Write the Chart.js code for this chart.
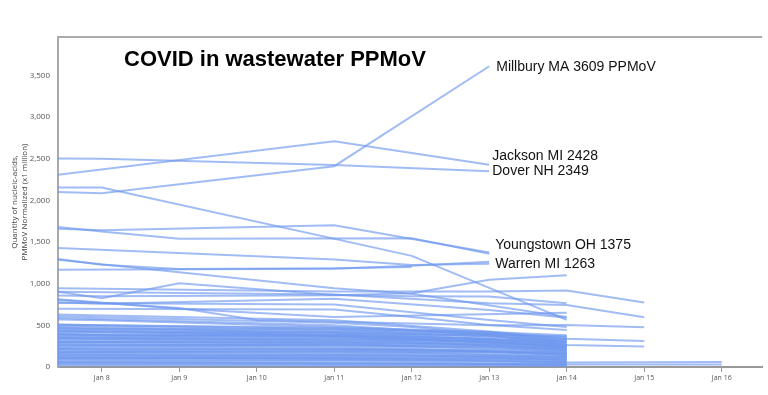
<!DOCTYPE html>
<html>
<head>
<meta charset="utf-8">
<script src="https://cdn.jsdelivr.net/npm/chart.js@4.4.0/dist/chart.umd.min.js"></script>
<style>
  html, body { margin: 0; padding: 0; background: #fff; }
  #wrap { width: 768px; height: 395px; }
</style>
</head>
<body>
<div id="wrap"><canvas id="wwChart" width="768" height="395"></canvas></div>
<script>
// sample days (January), first day sits just off the left edge
const days = [7, 8, 9, 10, 11, 12, 13, 14, 15, 16];
const tickDays = [8, 9, 10, 11, 12, 13, 14, 15, 16];
const tickLabels = ['Jan 8', 'Jan 9', 'Jan 10', 'Jan 11', 'Jan 12', 'Jan 13', 'Jan 14', 'Jan 15', 'Jan 16'];
const yTicks = [0, 500, 1000, 1500, 2000, 2500, 3000, 3500];

// labelled sites
const millbury   = [2112, 2085, null, null, 2410, null, 3609, null, null, null];
const jackson    = [2259, null, null, null, 2710, null, 2428, null, null, null];
const dover      = [2505, 2500, null, null, 2425, null, 2349, null, null, null];
const youngstown = [1676, 1640, null, null, 1700, null, 1375, null, null, null];
const warren     = [1166, null, null, null, 1180, 1215, 1263, null, null, null];
const siteNames = ['Millbury MA 3609 PPMoV', 'Jackson MI 2428', 'Dover NH 2349', 'Youngstown OH 1375', 'Warren MI 1263'];

// other high / mid sites
const upperSites = [
    [2155, 2155, null, null, null, 1334, null, 565, null, null],
    [1722, 1625, 1540, null, null, 1545, 1360, null, null, null],
    [1445, null, null, null, 1290, 1225, 1240, null, null, null],
    [1350, 1226, 1175, null, 1186, 1200, null, null, null, null],
    [1330, null, null, null, 946, 880, null, 600, null, null],
    [960, 826, 1006, null, 865, 850, 845, 765, null, null],
    [950, null, null, null, 905, null, 905, 917, 773, null],
    [906, null, null, null, 870, null, 765, 745, 597, null],
    [866, 850, null, null, 860, 886, 1046, 1100, null, null],
    [846, null, 700, null, 600, null, null, 650, null, null],
    [830, null, 709, 565, null, null, 500, 505, 477, null],
    [790, 760, null, null, 820, null, 685, 590, null, null],
    [770, null, null, null, 750, null, 565, 480, null, null],
    [700, null, null, null, 690, 600, 505, 445, null, null],
    [640, null, null, null, 560, null, 425, 340, 313, null],
    [620, null, null, null, 530, 480, 400, 365, null, null],
    [600, null, null, null, 500, null, 380, 265, 245, null],
    [580, 560, null, null, 480, null, 420, 300, null, null]
];

// the dense bundle of small sites
const lowerSites = [
    [520, 500, null, null, 460, null, 420, 380, null, null],
    [510, null, null, null, 470, null, 400, 340, null, null],
    [505, null, 470, null, 440, 430, null, 360, null, null],
    [490, null, null, 430, null, 410, 390, 330, null, null],
    [475, 460, null, null, 450, null, 360, 320, null, null],
    [470, null, 440, null, 420, null, 370, 310, null, null],
    [455, null, 420, null, 400, null, 380, 300, null, null],
    [440, 430, null, null, 410, 380, null, 290, null, null],
    [430, null, null, null, 380, 370, null, 300, null, null],
    [425, null, null, 400, null, 360, 340, 280, null, null],
    [410, 380, null, null, 390, null, 330, 270, null, null],
    [400, null, null, 380, null, 350, 310, 265, null, null],
    [395, null, 370, null, 360, null, 320, 260, null, null],
    [380, null, null, null, 370, 340, null, 250, null, null],
    [370, 360, null, null, 350, null, 300, 250, null, null],
    [365, 350, null, 340, null, 330, 300, 240, null, null],
    [350, null, null, null, 330, null, 310, 230, null, null],
    [340, null, null, null, 320, 310, 290, 235, null, null],
    [335, null, 320, null, 310, 300, null, 220, null, null],
    [320, 310, null, null, 300, null, 280, 210, null, null],
    [305, null, null, 290, null, 280, 260, 200, null, null],
    [300, null, 300, null, 290, null, 270, 220, null, null],
    [290, null, 280, null, 270, null, 250, 190, null, null],
    [275, 270, null, null, 260, 250, null, 180, null, null],
    [260, null, null, null, 250, null, 230, 170, null, null],
    [260, null, null, null, 270, null, 240, 200, null, null],
    [245, null, 240, null, 230, 220, null, 160, null, null],
    [230, 225, null, null, 220, null, 200, 150, null, null],
    [220, 210, null, null, 210, 200, null, 170, null, null],
    [215, null, null, 210, null, 200, 190, 140, null, null],
    [200, null, 190, null, 185, null, 170, 130, null, null],
    [185, 180, null, null, 175, 170, null, 120, null, null],
    [180, null, null, null, 190, null, 180, 150, null, null],
    [170, null, null, null, 160, null, 150, 110, null, null],
    [155, null, 150, null, 145, 140, null, 100, null, null],
    [150, null, 140, null, 140, null, 130, 120, null, null],
    [140, 135, null, null, 130, null, 125, 90, null, null],
    [125, null, null, 120, null, 115, 110, 80, null, null],
    [110, null, 105, null, 100, null, 95, 70, null, null],
    [100, null, null, null, 110, null, 100, 90, null, null],
    [95, 90, null, null, 85, 80, null, 60, null, null],
    [80, null, null, null, 75, null, 70, 50, null, null],
    [65, null, 60, null, 55, 50, null, 40, null, null],
    [50, 45, null, null, 40, null, 35, 30, null, null],
    [35, null, null, 30, null, 28, 25, 20, null, null],
    [20, null, 18, null, 16, null, 15, 12, null, null],
    [120, null, null, null, 100, null, 80, 55, 58, 60],
    [60, null, null, null, 45, null, 38, 30, 30, 30]
];

const lineColor = 'rgba(110, 152, 238, 0.65)';
const labelled = [millbury, jackson, dover, youngstown, warren];
const labelNudge = [[7, 1], [3, -9], [3, 0], [6, -7], [6, 2]];

function toPoints(vals) {
    const pts = [];
    vals.forEach(function(v, i) {
        if (v !== null) pts.push({ x: days[i], y: v });
    });
    return pts;
}

function makeSet(vals, name) {
    return {
        label: name || '',
        data: toPoints(vals),
        borderColor: lineColor,
        borderWidth: 2,
        pointRadius: 0,
        fill: false,
        tension: 0
    };
}

const datasets = [];
lowerSites.forEach(function(s) { datasets.push(makeSet(s)); });
upperSites.forEach(function(s) { datasets.push(makeSet(s)); });
labelled.forEach(function(s, i) { datasets.push(makeSet(s, siteNames[i])); });

const decorPlugin = {
    id: 'decor',
    afterDatasetsDraw(chart) {
        const ctx = chart.ctx;
        const area = chart.chartArea;
        const xs = chart.scales.x, ys = chart.scales.y;
        ctx.save();
        // top frame line
        ctx.strokeStyle = '#aaaaaa';
        ctx.lineWidth = 2;
        ctx.beginPath();
        ctx.moveTo(area.left, area.top);
        ctx.lineTo(area.right, area.top);
        ctx.stroke();

        // chart heading inside the plot
        ctx.fillStyle = '#000';
        ctx.font = 'bold 22px "Liberation Sans", Arial, sans-serif';
        ctx.textBaseline = 'middle';
        ctx.textAlign = 'left';
        ctx.fillText('COVID in wastewater PPMoV', area.left + 66, area.top + 23);

        // site labels at the end of their lines
        ctx.font = '14px "Liberation Sans", Arial, sans-serif';
        ctx.fillStyle = '#111';
        labelled.forEach(function(vals, i) {
            let last = vals.length - 1;
            while (vals[last] === null) last--;
            const px = xs.getPixelForValue(days[last]);
            const py = ys.getPixelForValue(vals[last]);
            ctx.fillText(siteNames[i], px + labelNudge[i][0], py + labelNudge[i][1]);
        });
        ctx.restore();
    }
};

const ctx = document.getElementById('wwChart').getContext('2d');
const wwChart = new Chart(ctx, {
    type: 'line',
    data: { datasets: datasets },
    options: {
        responsive: false,
        animation: false,
        layout: { padding: { left: 0, top: 37, right: 6, bottom: 0 } },
        plugins: {
            legend: { display: false },
            tooltip: { enabled: false }
        },
        scales: {
            x: {
                type: 'linear',
                min: 7.435,
                max: 16.52,
                afterBuildTicks: function(scale) {
                    scale.ticks = tickDays.map(function(d) { return { value: d }; });
                },
                afterFit: function(scale) { scale.height = 28; },
                ticks: {
                    callback: function(value) {
                        const i = tickDays.indexOf(value);
                        return i >= 0 ? tickLabels[i] : '';
                    },
                    maxRotation: 0,
                    autoSkip: false,
                    padding: 2,
                    color: '#555',
                    font: { family: '"Open Sans", sans-serif', size: 7 }
                },
                grid: {
                    display: true,
                    drawOnChartArea: false,
                    drawTicks: true,
                    tickLength: 5,
                    color: '#999'
                },
                border: { display: true, color: '#999', width: 2 }
            },
            y: {
                min: 0,
                max: 3960,
                afterBuildTicks: function(scale) {
                    scale.ticks = yTicks.map(function(v) { return { value: v }; });
                },
                afterFit: function(scale) { scale.width = 58; },
                ticks: {
                    callback: function(value) { return value.toLocaleString('en-US'); },
                    padding: 8,
                    color: '#555',
                    font: { family: '"Open Sans", sans-serif', size: 8 }
                },
                grid: { display: false, drawTicks: false },
                border: { display: true, color: '#aaaaaa', width: 2 },
                title: {
                    display: true,
                    text: ['Quantity of nucleic-acids,', 'PMMoV Normalized (x1 million)'],
                    color: '#444',
                    font: { family: '"Open Sans", sans-serif', size: 8 },
                    padding: { top: 10, bottom: 0 }
                }
            }
        }
    },
    plugins: [decorPlugin]
});
</script>
</body>
</html>
